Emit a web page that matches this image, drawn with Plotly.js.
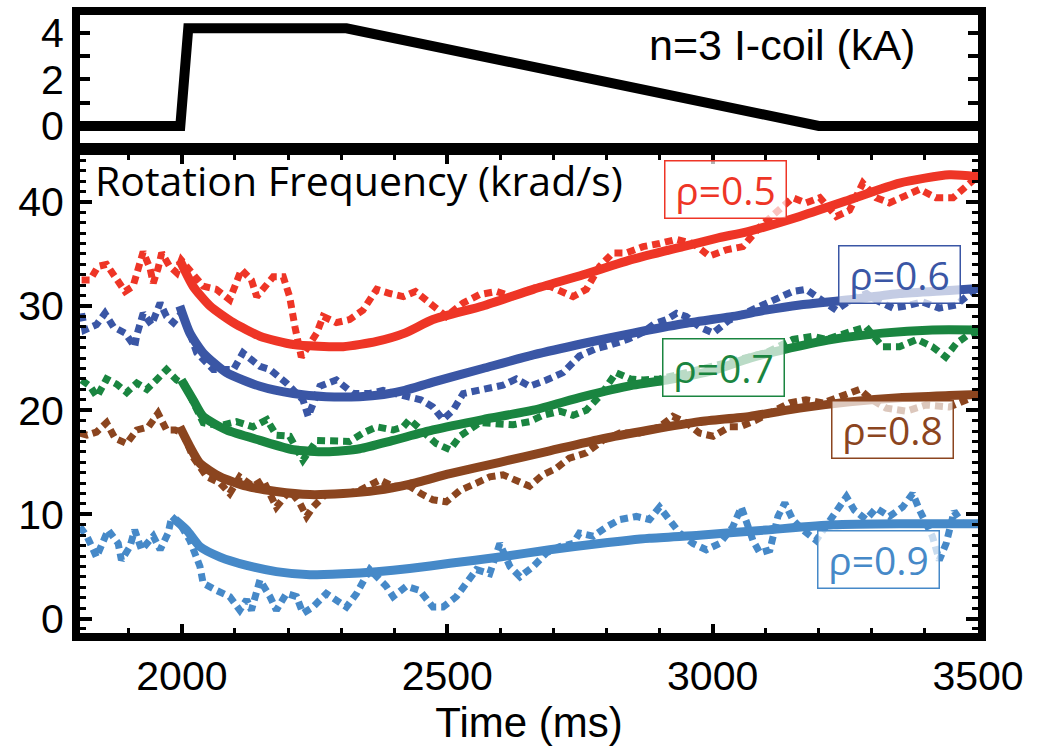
<!DOCTYPE html>
<html>
<head>
<meta charset="utf-8">
<script src="https://cdn.plot.ly/plotly-3.0.1.min.js"></script>
<style>html,body{margin:0;padding:0;background:#fff;}</style>
</head>
<body>
<div id="chart" style="width:1047px;height:752px;"></div>
<script>
// ---- I-coil current (top panel) ----
const coilTime = [1800, 1997, 2012, 2310, 3200, 3500];
const coilKA   = [0, 0, 4.2, 4.2, 0, 0];

// ---- rotation profiles ----
const rhoValues = [0.5, 0.6, 0.7, 0.8, 0.9];

// rho = 0.5
const fitTime05 = [1996,2021,2053,2097,2147,2210,2304,2367,2420,2473,2567,2662,2756,2850,2944,3007,3070,3164,3258,3352,3446,3503];
const fitVal05  = [34.4,31.9,30.0,28.4,27.1,26.3,26.1,26.6,27.4,28.7,30.0,31.6,33.0,34.5,35.7,36.5,37.2,38.6,40.2,41.8,42.6,42.4];
const rawTime05 = [1811,1827,1842,1858,1874,1893,1908,1918,1927,1940,1946,1955,1962,1977,1990,1999,2015,2040,2065,2090,2112,2131,2141,2153,2172,2191,2203,2213,2225,2254,2266,2291,2316,2341,2367,2392,2417,2440,2473,2498,2530,2561,2593,2624,2662,2693,2737,2762,2787,2812,2837,2869,2900,2932,2963,2994,3026,3057,3089,3120,3151,3176,3202,3233,3258,3283,3308,3333,3358,3390,3421,3453,3478,3503];
const rawVal05  = [32.5,32.5,33.8,34.0,32.8,31.4,31.9,33.8,35.2,33.6,32.2,33.6,35.1,33.8,33.2,34.4,33.5,31.9,31.6,30.6,33.5,32.5,30.9,31.6,32.8,32.8,30.9,28.0,25.1,27.4,29.0,28.4,28.7,29.6,31.6,31.2,30.9,31.4,30.0,29.0,30.3,31.1,31.4,30.9,31.7,31.9,30.9,31.6,33.8,35.1,35.1,35.7,36.0,36.4,36.0,34.8,35.4,35.7,37.6,38.9,40.4,39.9,40.4,38.6,39.2,41.8,40.4,39.9,40.4,41.2,40.4,40.4,41.5,42.6];

// rho = 0.6
const fitTime06 = [1996,2015,2040,2084,2147,2210,2272,2335,2380,2420,2473,2567,2662,2756,2850,2944,3038,3100,3164,3258,3352,3446,3503];
const fitVal06  = [30.0,27.4,25.5,23.6,22.3,21.6,21.3,21.3,21.5,21.9,22.7,24.0,25.3,26.4,27.4,28.3,29.0,29.6,30.1,30.6,31.2,31.5,31.7];
const rawTime06 = [1811,1817,1839,1855,1871,1893,1911,1915,1927,1943,1959,1971,1984,1999,2015,2028,2059,2097,2115,2147,2166,2197,2228,2238,2260,2291,2323,2354,2379,2398,2425,2450,2473,2492,2511,2530,2555,2580,2605,2630,2655,2687,2718,2749,2780,2810,2840,2870,2890,2913,2932,2950,2975,3001,3030,3060,3080,3101,3151,3176,3202,3233,3260,3290,3310,3340,3365,3395,3427,3459,3478,3503];
const rawVal06  = [29.3,27.7,28.2,29.3,28.0,27.4,26.1,27.2,29.3,28.2,30.3,29.0,28.4,29.3,27.4,25.5,23.9,23.9,25.5,24.2,23.9,22.6,21.0,19.4,22.3,22.9,21.6,21.6,21.9,21.6,21.3,21.0,20.3,19.1,20.0,21.6,21.9,22.1,22.4,23.0,22.3,22.9,23.6,25.2,25.9,26.3,26.8,27.5,28.3,28.7,29.3,29.0,28.0,27.4,28.6,29.3,29.8,30.3,31.4,31.6,30.6,29.6,30.6,31.2,30.5,29.8,30.0,30.4,29.8,30.1,30.9,31.9];

// rho = 0.7
const fitTime07 = [1999,2021,2040,2084,2147,2210,2272,2335,2398,2473,2567,2662,2756,2850,2913,3000,3070,3132,3226,3320,3414,3503];
const fitVal07  = [22.9,21.0,19.4,18.1,17.1,16.2,16.0,16.3,17.1,18.1,19.1,20.0,21.3,22.4,22.9,23.8,25.0,25.8,26.8,27.4,27.7,27.7];
const rawTime07 = [1811,1827,1840,1858,1877,1896,1915,1934,1952,1971,1990,2005,2040,2070,2103,2134,2160,2178,2203,2228,2254,2291,2316,2341,2367,2398,2417,2429,2455,2479,2505,2524,2561,2595,2624,2655,2680,2712,2737,2762,2790,2818,2845,2869,2900,2950,3000,3050,3100,3151,3189,3214,3250,3289,3320,3352,3385,3414,3439,3459,3478,3503];
const rawVal07  = [22.9,22.3,21.3,23.0,22.5,21.7,22.6,22.0,22.9,23.9,22.9,22.5,18.8,18.5,18.9,18.4,19.1,17.6,17.5,15.2,17.1,17.0,17.0,17.8,18.4,18.1,18.4,19.1,18.0,16.8,16.2,17.5,18.8,18.7,18.6,18.9,19.5,19.9,19.5,20.0,21.5,23.6,23.0,22.9,23.0,23.6,24.2,24.8,25.5,26.8,27.1,26.8,27.3,28.0,26.1,26.1,26.8,26.1,25.1,26.4,27.1,27.6];

// rho = 0.8
const fitTime08 = [1996,2015,2034,2072,2122,2178,2241,2304,2367,2430,2505,2599,2693,2787,2881,2975,3070,3164,3258,3352,3446,3503];
const fitVal08  = [18.4,16.5,14.9,13.6,12.7,12.2,11.9,12.0,12.3,12.9,13.9,15.0,16.1,17.2,18.1,18.9,19.4,20.2,20.8,21.2,21.4,21.5];
const rawTime08 = [1808,1821,1839,1858,1874,1896,1915,1937,1955,1971,1987,2002,2021,2047,2072,2090,2109,2134,2153,2178,2203,2222,2235,2247,2272,2304,2335,2373,2398,2429,2450,2473,2498,2524,2555,2580,2605,2630,2655,2680,2705,2730,2762,2793,2825,2862,2900,2925,2950,2975,3001,3032,3051,3080,3110,3145,3176,3208,3240,3277,3300,3327,3365,3402,3446,3478,3503];
const rawVal08  = [17.8,17.6,17.9,18.8,17.3,16.8,18.1,18.4,19.7,18.1,18.1,17.8,15.5,13.6,13.0,12.0,13.6,12.7,13.3,10.7,12.3,11.1,9.8,10.7,12.0,11.9,12.3,13.3,12.7,12.7,12.0,11.4,11.2,12.3,13.0,13.6,13.8,13.3,12.7,13.8,14.4,15.4,15.9,17.1,17.8,17.8,18.4,19.4,18.8,17.8,17.5,18.4,18.4,19.0,19.8,20.7,21.0,20.7,21.3,22.0,21.0,20.2,19.9,20.5,20.3,21.0,21.5];

// rho = 0.9
const fitTime09 = [1987,2009,2034,2072,2122,2178,2241,2304,2367,2429,2505,2599,2693,2787,2881,2975,3101,3227,3352,3503];
const fitVal09  = [9.5,8.5,6.9,5.9,5.1,4.5,4.2,4.3,4.5,4.8,5.3,5.9,6.6,7.2,7.7,8.0,8.5,9.0,9.1,9.1];
const rawTime09 = [1808,1821,1833,1839,1861,1880,1886,1902,1911,1924,1946,1959,1974,1981,1996,2015,2034,2040,2065,2090,2109,2122,2131,2141,2147,2166,2178,2197,2216,2228,2247,2272,2291,2310,2329,2341,2354,2385,2398,2423,2448,2473,2492,2517,2536,2555,2580,2599,2618,2637,2662,2687,2712,2737,2749,2775,2800,2825,2856,2881,2900,2919,2938,2963,2988,3013,3038,3054,3066,3076,3089,3108,3123,3136,3151,3170,3195,3233,3252,3267,3289,3308,3333,3358,3377,3390,3414,3427,3440,3455,3471,3503];
const rawVal09  = [8.8,7.9,6.6,5.9,8.5,7.2,5.6,6.9,8.5,6.6,7.9,6.6,8.2,9.8,9.1,7.5,5.0,3.4,2.7,2.1,0.8,1.8,0.8,2.4,3.7,2.1,0.8,2.4,2.1,0.5,1.1,2.4,1.8,1.1,2.4,3.4,4.7,3.1,2.1,3.1,2.7,1.1,1.1,2.1,3.4,4.7,4.3,7.2,5.0,4.0,5.0,6.3,6.9,7.2,8.2,7.9,8.8,9.5,9.8,9.5,10.7,9.5,8.2,7.2,6.6,7.2,8.8,10.7,9.1,7.5,6.3,6.6,9.8,11.1,9.5,8.5,7.5,10.4,11.7,10.4,9.5,10.6,9.8,10.7,12.0,10.4,7.9,5.6,7.2,10.3,9.1,9.1];

// ---- styling ----
const colors = ['#EE3526', '#3A56A5', '#1A8540', '#8B451F', '#4689C8'];
const fits = [[fitTime05, fitVal05],[fitTime06, fitVal06],[fitTime07, fitVal07],[fitTime08, fitVal08],[fitTime09, fitVal09]];
const raws = [[rawTime05, rawVal05],[rawTime06, rawVal06],[rawTime07, rawVal07],[rawTime08, rawVal08],[rawTime09, rawVal09]];

const traces = [];
traces.push({x: coilTime, y: coilKA, xaxis:'x2', yaxis:'y2', mode:'lines',
  line:{color:'#000', width:10}, hoverinfo:'skip'});
for (let i = 0; i < rhoValues.length; i++) {
  traces.push({x: raws[i][0], y: raws[i][1], xaxis:'x', yaxis:'y', mode:'lines',
    line:{color: colors[i], width: 7, dash:'8px,5px'}, hoverinfo:'skip'});
}
for (let i = 0; i < rhoValues.length; i++) {
  traces.push({x: fits[i][0], y: fits[i][1], xaxis:'x', yaxis:'y', mode:'lines',
    line:{color: colors[i], width: 9, shape:'spline', smoothing:0.6}, hoverinfo:'skip'});
}

const boxPos = [[3024, 41.2],[3353, 33.0],[3021, 24.1],[3339, 18.1],[3313, 5.7]];
const rhoAnn = rhoValues.map((r, i) => ({
  text: 'ρ=' + r.toFixed(1), xref:'x', yref:'y', x: boxPos[i][0], y: boxPos[i][1],
  showarrow:false, xanchor:'center', yanchor:'middle',
  font:{family:'Open Sans, Noto Sans, sans-serif', size:39, color: colors[i]},
  bgcolor:'rgba(255,255,255,0.7)', bordercolor: colors[i], borderwidth:1.5, borderpad:2,
  width:116, height:52
}));

const axLine = {showline:true, linecolor:'#000', linewidth:8, showgrid:false, zeroline:false};
const layout = {
  width:1047, height:752,
  margin:{l:80, r:69, t:15, b:119},
  paper_bgcolor:'#fff', plot_bgcolor:'#fff', showlegend:false,
  font:{family:'Liberation Sans, Arial, sans-serif', size:41, color:'#000'},
  xaxis: Object.assign({}, axLine, {
    domain:[0,1], anchor:'y', range:[1808, 3500],
    tick0:2000, dtick:500, ticks:'inside', ticklen:9, tickwidth:4, tickcolor:'#000',
    minor:{dtick:100, tick0:2000, ticks:'inside', ticklen:5, tickwidth:3, tickcolor:'#000'},
    mirror:'ticks', tickfont:{size:41},
    title:{text:'Time (ms)', font:{size:42}, standoff:4}
  }),
  yaxis: Object.assign({}, axLine, {
    domain:[0, 0.7735], anchor:'x', range:[-1.39, 44.5],
    tick0:0, dtick:10, ticks:'inside', ticklen:12, tickwidth:4, tickcolor:'#000',
    minor:{dtick:1, tick0:0, ticks:'inside', ticklen:6, tickwidth:3, tickcolor:'#000'},
    mirror:'ticks', tickfont:{size:41}
  }),
  xaxis2: Object.assign({}, axLine, {
    domain:[0,1], anchor:'y2', range:[1808, 3500], showticklabels:false, ticks:'', mirror:true
  }),
  yaxis2: Object.assign({}, axLine, {
    domain:[0.793, 1], anchor:'x2', range:[-0.73, 4.77],
    tick0:0, dtick:2, ticks:'inside', ticklen:10, tickwidth:4, tickcolor:'#000',
    minor:{dtick:1, tick0:0, ticks:'inside', ticklen:10, tickwidth:4, tickcolor:'#000'},
    mirror:'ticks', tickfont:{size:41}
  }),
  annotations: [
    {text:'n=3 I-coil (kA)', xref:'x2', yref:'y2', x:3385, y:3.5, xanchor:'right', yanchor:'middle',
     showarrow:false, font:{family:'Liberation Sans, Arial, sans-serif', size:43, color:'#000'}},
    {text:'Rotation Frequency (krad/s)', xref:'x', yref:'y', x:1832, y:42.1, xanchor:'left', yanchor:'middle',
     showarrow:false, font:{family:'Open Sans, Noto Sans, sans-serif', size:41, color:'#000'}}
  ].concat(rhoAnn)
};

Plotly.newPlot('chart', traces, layout, {staticPlot:true, displayModeBar:false});
</script>
</body>
</html>
